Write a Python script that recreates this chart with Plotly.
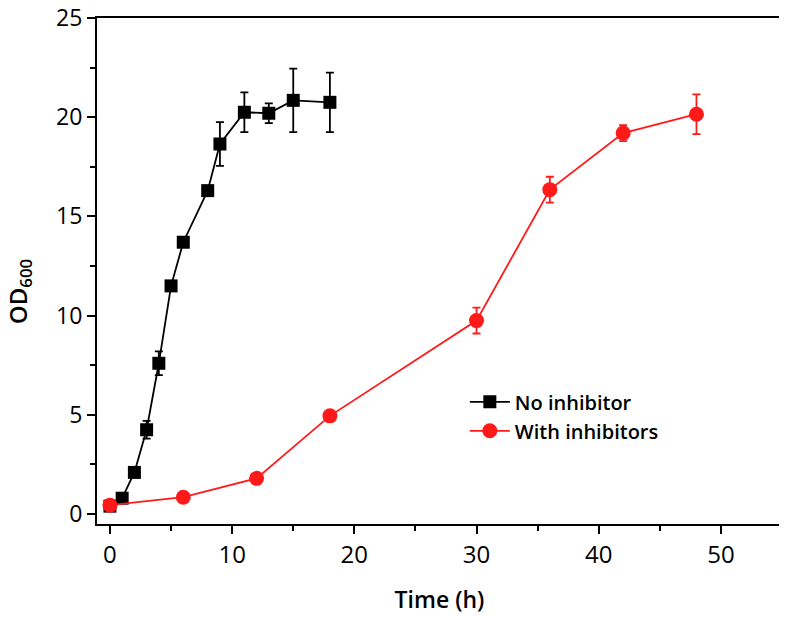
import plotly.graph_objects as go

# growth curves, OD600 vs time
time_no = [0, 1, 2, 3, 4, 5, 6, 8, 9, 11, 13, 15, 18]
od_no = [0.4, 0.8, 2.1, 4.25, 7.6, 11.5, 13.7, 16.3, 18.65, 20.25, 20.2, 20.85, 20.75]
err_no = [0.15, 0.2, 0.2, 0.45, 0.6, 0.2, 0.25, 0.2, 1.1, 1.0, 0.5, 1.6, 1.5]

time_inh = [0, 6, 12, 18, 30, 36, 42, 48]
od_inh = [0.45, 0.85, 1.8, 4.95, 9.75, 16.35, 19.2, 20.15]
err_inh = [0.1, 0.1, 0.15, 0.15, 0.65, 0.65, 0.4, 1.0]

font = "Open Sans"

fig = go.Figure()

fig.add_trace(go.Scatter(
    x=time_no, y=od_no, mode='lines+markers', name='No inhibitor',
    line=dict(color='black', width=1.8),
    marker=dict(symbol='square', size=13, color='black'),
    error_y=dict(type='data', array=err_no, color='black', thickness=1.8, width=4),
))
fig.add_trace(go.Scatter(
    x=time_inh, y=od_inh, mode='lines+markers', name='With inhibitors',
    line=dict(color='#ff1a1a', width=1.8),
    marker=dict(symbol='circle', size=15, color='#ff1a1a'),
    error_y=dict(type='data', array=err_inh, color='#ff1a1a', thickness=1.8, width=4),
))

# page body adds an 8px offset, margins take that into account
fig.update_layout(
    width=787, height=617,
    margin=dict(l=89, r=13, t=10, b=101),
    plot_bgcolor='white', paper_bgcolor='white',
    font=dict(family=font, size=20, color='black'),
    showlegend=True,
    legend=dict(x=0.537, y=0.28, xanchor='left', yanchor='top',
                bgcolor='rgba(0,0,0,0)', font=dict(size=20, weight=600),
                tracegroupgap=0, itemwidth=40),
)

# y title as annotation so it can sit further left
fig.add_annotation(
    text='OD<sub>600</sub>', xref='paper', yref='paper', x=-0.114, y=0.46,
    xanchor='center', yanchor='middle', textangle=-90, showarrow=False,
    font=dict(size=24, weight=600),
)

fig.update_xaxes(
    range=[-1.06, 55], tickvals=[0, 10, 20, 30, 40, 50],
    showline=True, linecolor='black', linewidth=2, mirror=True,
    ticks='outside', ticklen=8, tickwidth=2, tickcolor='black',
    minor=dict(tickvals=[5, 15, 25, 35, 45], ticks='outside', ticklen=5, tickwidth=2, tickcolor='black'),
    showgrid=False, zeroline=False, automargin=False,
    title=dict(text='Time (h)', font=dict(size=23, weight=600), standoff=23),
    tickfont=dict(size=24),
)
fig.update_yaxes(
    range=[-0.5, 25], tickvals=[0, 5, 10, 15, 20, 25],
    showline=True, linecolor='black', linewidth=2, mirror=True,
    ticks='outside', ticklen=8, tickwidth=2, tickcolor='black',
    minor=dict(tickvals=[2.5, 7.5, 12.5, 17.5, 22.5], ticks='outside', ticklen=5, tickwidth=2, tickcolor='black'),
    showgrid=False, zeroline=False, automargin=False, ticklabeloverflow='allow',
    tickfont=dict(size=23),
)

fig.write_html("out.html")
